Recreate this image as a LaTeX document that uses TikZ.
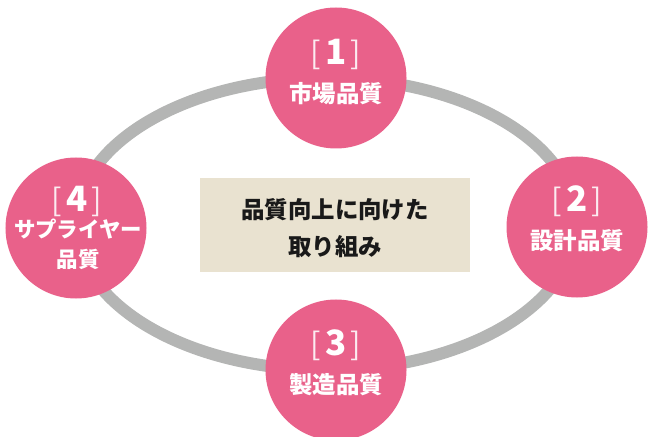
\documentclass[tikz,border=0pt]{standalone}
\usepackage{fontspec}
\setmainfont{Noto Sans CJK JP}
\definecolor{pinkc}{HTML}{E9618A}
\definecolor{ringc}{HTML}{B4B5B4}
\definecolor{boxc}{HTML}{E9E2D0}
\tikzset{
  qcircle/.style={circle, fill=pinkc, minimum size=141bp, inner sep=0pt},
  brk/.style={text=white, inner sep=0pt},
  lbl/.style={text=white, font=\bfseries\fontsize{23.5}{26}\selectfont, inner sep=0pt, align=center},
}
\newcommand{\numlbl}[1]{{\color{white!88!pinkc}\fontsize{31}{34}\selectfont[}\hspace{4bp}{\bfseries\fontsize{35}{38}\selectfont #1}\hspace{4bp}{\color{white!88!pinkc}\fontsize{31}{34}\selectfont]}}
\begin{document}
\begin{tikzpicture}[x=1bp,y=-1bp]
\useasboundingbox (0,0) rectangle (648,437);
\clip (0,0) rectangle (648,437);
\draw[ringc, line width=12bp] (326,224) ellipse [x radius=250bp, y radius=146bp];
\node[fill=boxc, minimum width=270bp, minimum height=93bp, inner sep=0pt] (center) at (335,225) {};
\node[font=\bfseries\fontsize{23.5}{37}\selectfont, align=center, text=black!90] (ctext) at (335,228) {品質向上に向けた\\取り組み};
\node[qcircle] (c1) at (336,78) {};
\node[qcircle] (c2) at (577,227) {};
\node[qcircle] (c3) at (336,370) {};
\node[qcircle] (c4) at (76,228) {};
\node[brk] (n1) at (336,54) {\numlbl{1}};
\node[lbl] (t1) at (336,94) {市場品質};
\node[brk] (n2) at (577,201) {\numlbl{2}};
\node[lbl] (t2) at (577,241) {設計品質};
\node[brk] (n3) at (336,345) {\numlbl{3}};
\node[lbl] (t3) at (336,385) {製造品質};
\node[brk] (n4) at (77,201) {\numlbl{4}};
\node[lbl, font=\bfseries\fontsize{21.5}{30}\selectfont] (t4) at (78,244) {サプライヤー\\品質};
\end{tikzpicture}
\end{document}
